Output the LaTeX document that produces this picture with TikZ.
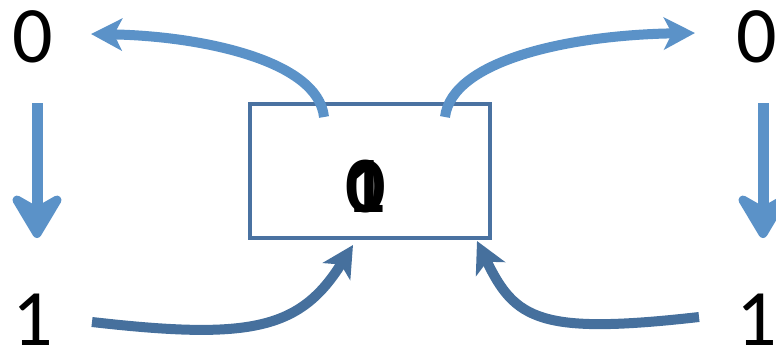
\documentclass[tikz,border=0pt]{standalone}
\usepackage{fontspec}
\setmainfont{Carlito}
\usetikzlibrary{arrows.meta}
\definecolor{lightblue}{HTML}{5B92C8}
\definecolor{darkblue}{HTML}{46709D}
\definecolor{boxblue}{HTML}{4A72A1}
\tikzset{
  digit/.style={inner sep=0pt, anchor=base, font=\fontsize{80}{80}\selectfont},
  bdigit/.style={digit, font=\fontsize{80}{80}\selectfont\bfseries},
  downarrow/.style={draw=lightblue, line width=11pt, -{Stealth[length=54pt,width=64pt,inset=18pt,round]}},
  upcurve/.style={draw=lightblue, line width=10pt, -{Stealth[length=31pt,width=32pt,inset=8pt]}},
  lowcurve/.style={draw=darkblue, line width=10pt, -{Stealth[length=31pt,width=32pt,inset=8pt]}},
  statebox/.style={draw=boxblue, line width=4pt, minimum width=240pt, minimum height=134pt, inner sep=0pt}
}
\begin{document}
\begin{tikzpicture}[x=1pt,y=-1pt]
\useasboundingbox (0,0) rectangle (776,351);
% digits
\node[digit] (l0) at (32.5,62) {0};
\node[digit] (l1) at (32.5,345) {1};
\node[digit] (r0) at (756.5,62) {0};
\node[digit] (r1) at (757,345) {1};
% box
\node[statebox] (box) at (369.5,171) {};
\node[bdigit] (c0) at (366,212) {0};
\node[bdigit] (c1) at (366,212) {1};
% coordinates
\coordinate (ld1) at (37,103);
\coordinate (ld2) at (37,238);
\coordinate (rd1) at (763,103);
\coordinate (rd2) at (763,238);
\coordinate (tl1) at (324,117);
\coordinate (tl2) at (91,34);
\coordinate (tr1) at (445,117);
\coordinate (tr2) at (695,33);
\coordinate (bl1) at (92,322);
\coordinate (bl2) at (353,245);
\coordinate (br1) at (699,317);
\coordinate (br2) at (477,241);
% arrows
\draw[downarrow] (ld1) -- (ld2);
\draw[downarrow] (rd1) -- (rd2);
\draw[upcurve] (tl1) .. controls (318,60) and (200,36) .. (tl2);
\draw[upcurve] (tr1) .. controls (452,60) and (570,35) .. (tr2);
\draw[lowcurve] (bl1) .. controls (250,340) and (300,330) .. (bl2);
\draw[lowcurve] (br1) .. controls (540,335) and (515,320) .. (br2);
\end{tikzpicture}
\end{document}
